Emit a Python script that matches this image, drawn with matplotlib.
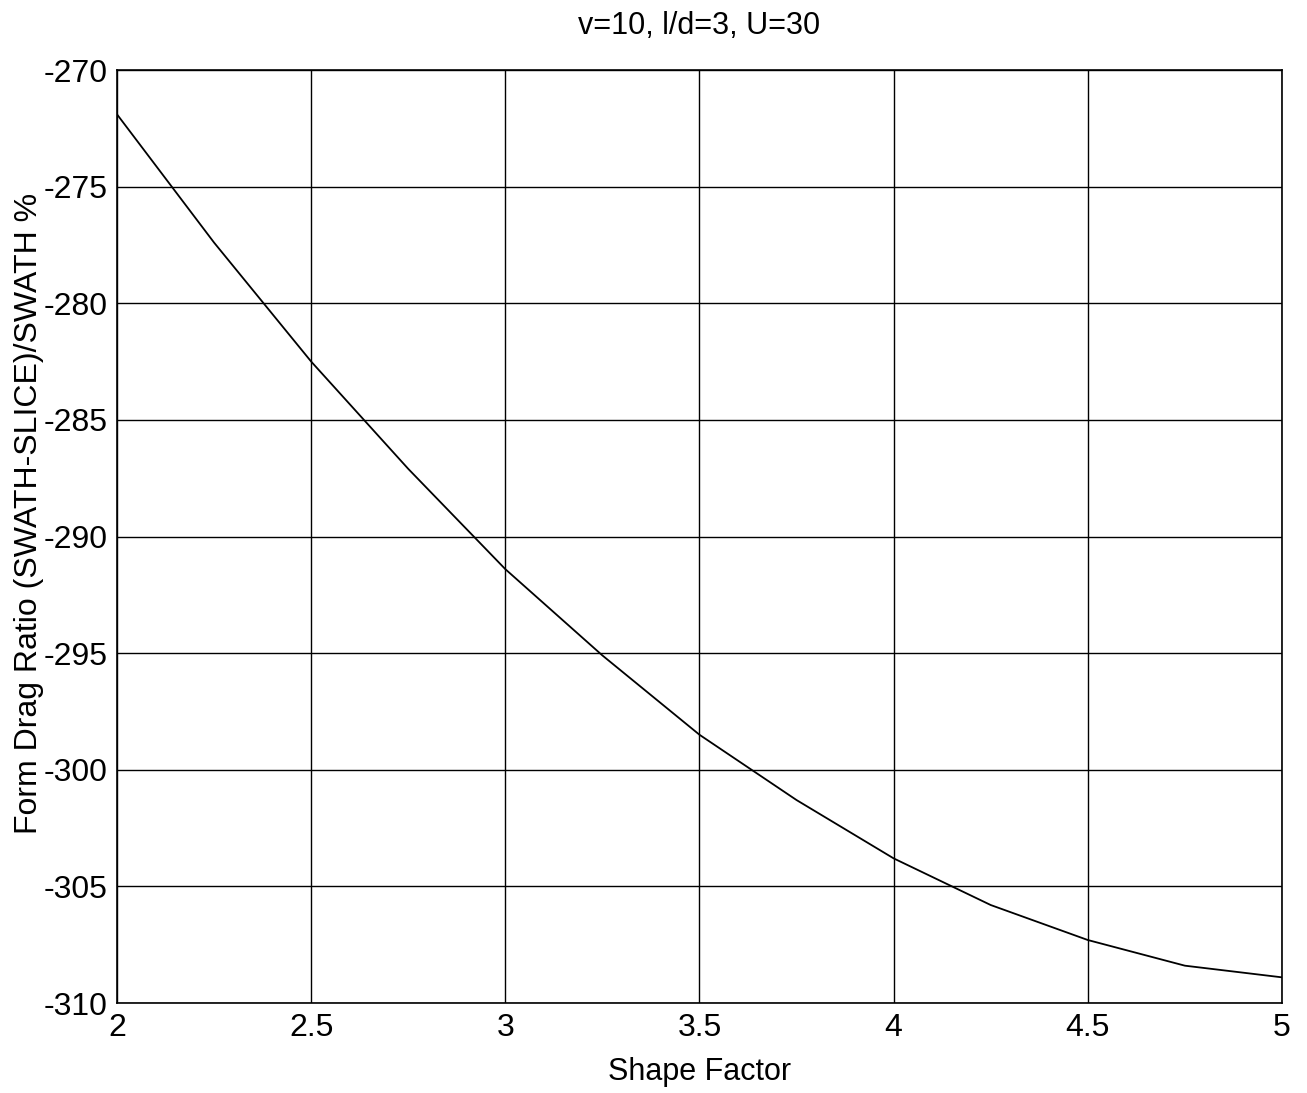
import matplotlib
matplotlib.use("Agg")
import matplotlib.pyplot as plt

shape_factor = [2.0, 2.25, 2.5, 2.75, 3.0, 3.25, 3.5, 3.75, 4.0, 4.25, 4.5, 4.75, 5.0]
drag_ratio = [-271.9, -277.4, -282.5, -287.1, -291.4, -295.1, -298.5, -301.3,
              -303.8, -305.8, -307.3, -308.4, -308.9]
xticks = [2, 2.5, 3, 3.5, 4, 4.5, 5]
xticklabels = ["2", "2.5", "3", "3.5", "4", "4.5", "5"]
yticks = [-310, -305, -300, -295, -290, -285, -280, -275, -270]

plt.rcParams['font.family'] = ['Liberation Sans', 'DejaVu Sans']
plt.rcParams['axes.unicode_minus'] = False

fig = plt.figure(figsize=(13.07, 10.93), dpi=100)
ax = fig.add_axes([117/1307, 1 - 1003/1093, (1282-117)/1307, (1003-70)/1093])
ax.plot(shape_factor, drag_ratio, color='black', linewidth=1.3)
ax.set_xlim(2, 5)
ax.set_ylim(-310, -270)
ax.set_xticks(xticks)
ax.set_xticklabels(xticklabels)
ax.set_yticks(yticks)
ax.grid(True, color='black', linewidth=1.0)
ax.tick_params(direction='in', length=0, labelsize=23, pad=7)
for s in ax.spines.values():
    s.set_linewidth(1.2)
ax.set_xlabel("Shape Factor", fontsize=22, labelpad=10)
ax.set_ylabel("Form Drag Ratio (SWATH-SLICE)/SWATH %", fontsize=23)
ax.yaxis.set_label_coords(-0.063, 0.525)
ax.set_title("v=10, l/d=3, U=30", fontsize=22, pad=26)
fig.savefig("out.png", dpi=100)
